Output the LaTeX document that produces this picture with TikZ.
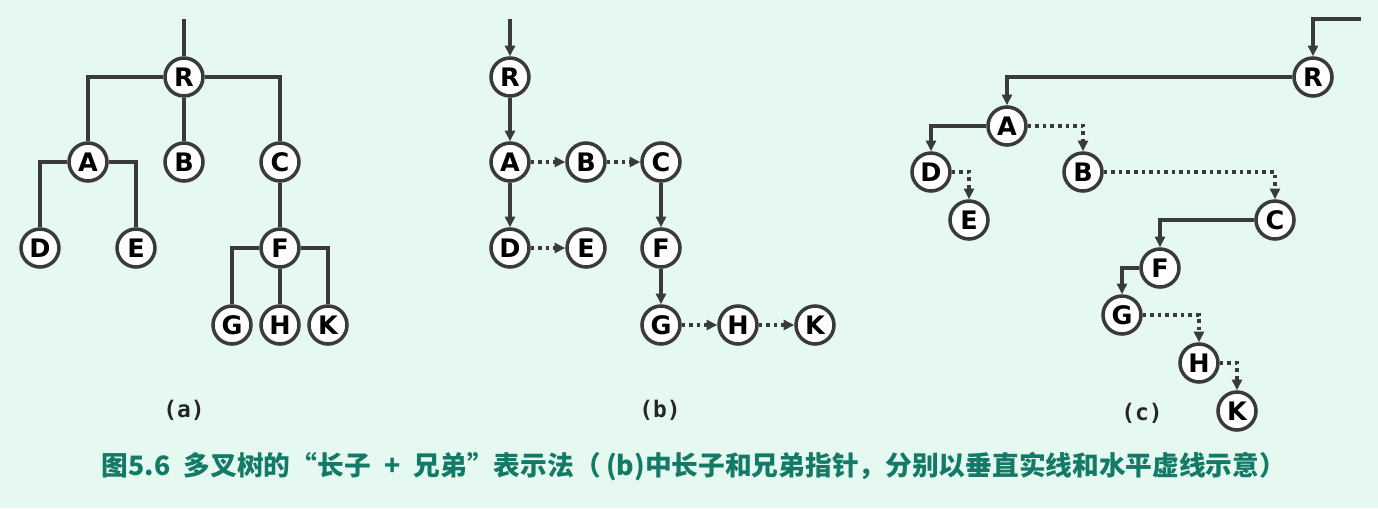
\documentclass[tikz,border=0pt]{standalone}
\usepackage{fontspec}
\setmainfont{DejaVu Sans}
\newfontfamily\cjk{Noto Sans CJK SC}
\newfontfamily\lblfont{DejaVu Sans Mono}
\usetikzlibrary{arrows.meta}
\definecolor{bg}{HTML}{E6F9F0}
\definecolor{ink}{HTML}{3A3A3A}
\definecolor{capc}{HTML}{127A66}
\tikzset{
  >={Triangle[length=6pt,width=5.6pt]},
  v/.style={circle,draw=ink,fill=white,line width=2pt,minimum size=7.6mm,inner sep=0pt,font=\fontsize{14.5}{14.5}\selectfont\bfseries},
  ln/.style={draw=ink,line width=1.9pt},
  dt/.style={ln,dash pattern=on 2pt off 2.3pt},
  lb/.style={font=\lblfont\bfseries\fontsize{13}{13}\selectfont,text=black!85},
  every picture/.style={line width=0.5pt},
}
\begin{document}
\begin{tikzpicture}[x=0.2mm,y=-0.2mm]
\fill[bg] (0,0) rectangle (1378,508);
\useasboundingbox (0,0) rectangle (1378,508);
% (a) the tree itself
\coordinate (aT) at (184,19);
\node[v] (aR) at (184,77){R};
\node[v] (aA) at (88,162){A}; \node[v] (aB) at (184,162){B}; \node[v] (aC) at (280,162){C};
\node[v] (aD) at (40,248){D}; \node[v] (aE) at (136,248){E}; \node[v] (aF) at (280,248){F};
\node[v] (aG) at (232,325){G}; \node[v] (aH) at (280,325){H}; \node[v] (aK) at (328,325){K};
\draw[ln] (aT)--(aR); \draw[ln] (aR)-|(aA); \draw[ln] (aR)--(aB); \draw[ln] (aR)-|(aC);
\draw[ln] (aA)-|(aD); \draw[ln] (aA)-|(aE); \draw[ln] (aC)--(aF);
\draw[ln] (aF)-|(aG); \draw[ln] (aF)--(aH); \draw[ln] (aF)-|(aK);
\node[lb] (la) at (184,410){(a)};
% (b) first child / next sibling pointers
\coordinate (bT) at (510,19);
\node[v] (bR) at (510,77){R};
\node[v] (bA) at (510,162){A}; \node[v] (bB) at (586,162){B}; \node[v] (bC) at (661,162){C};
\node[v] (bD) at (510,248){D}; \node[v] (bE) at (586,248){E}; \node[v] (bF) at (661,248){F};
\node[v] (bG) at (661,325){G}; \node[v] (bH) at (738,325){H}; \node[v] (bK) at (815,325){K};
\draw[ln,->] (bT)--(bR); \draw[ln,->] (bR)--(bA); \draw[ln,->] (bA)--(bD);
\draw[ln,->] (bC)--(bF); \draw[ln,->] (bF)--(bG);
\draw[dt,->] (bA)--(bB); \draw[dt,->] (bB)--(bC); \draw[dt,->] (bD)--(bE);
\draw[dt,->] (bG)--(bH); \draw[dt,->] (bH)--(bK);
\node[lb] (lb) at (660,410){(b)};
% (c) the same, laid out as a binary tree
\coordinate (cT) at (1361,19);
\node[v] (cR) at (1313,77){R};
\node[v] (cA) at (1007,126){A};
\node[v] (cD) at (931,172){D}; \node[v] (cB) at (1083,172){B};
\node[v] (cE) at (969,220){E}; \node[v] (cC) at (1275,220){C};
\node[v] (cF) at (1160,268){F};
\node[v] (cG) at (1122,315){G};
\node[v] (cH) at (1199,363){H};
\node[v] (cK) at (1237,411){K};
\draw[ln,->] (cT)-|(cR); \draw[ln,->] (cR)-|(cA); \draw[ln,->] (cA)-|(cD);
\draw[ln,->] (cC)-|(cF); \draw[ln,->] (cF)-|(cG);
\draw[dt,->] (cA)-|(cB); \draw[dt,->] (cD)-|(cE); \draw[dt,->] (cB)-|(cC);
\draw[dt,->] (cG)-|(cH); \draw[dt,->] (cH)-|(cK);
\node[lb] (lc) at (1142,413){(c)};
% caption
\node[font=\cjk\bfseries\fontsize{15.2}{15.2}\selectfont,text=capc] (cap) at (694,467)
  {图5.6\hspace{0.5em}多叉树的“长子\hspace{0.5em}+\hspace{0.5em}兄弟”表示法（\hspace{0.2em}(b)中长子和兄弟指针，分别以垂直实线和水平虚线示意）};
\end{tikzpicture}
\end{document}
